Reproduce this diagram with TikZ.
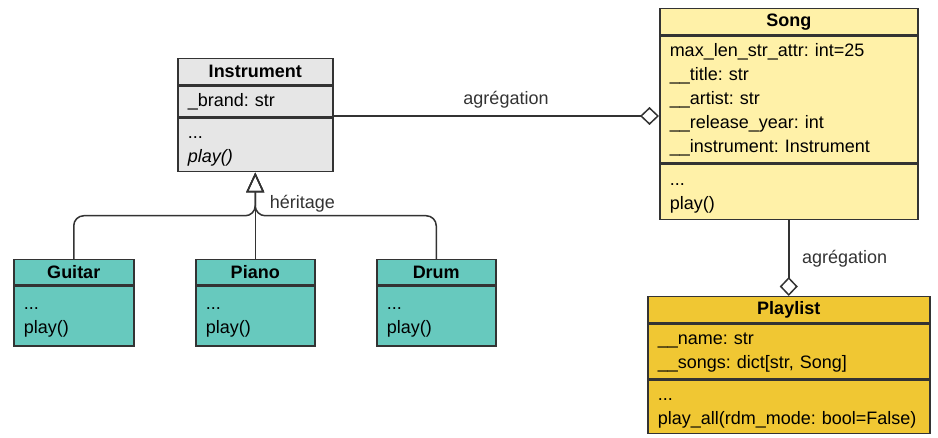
\documentclass[tikz,border=0pt]{standalone}
\usepackage{fontspec}
\setmainfont{Liberation Sans}
\usetikzlibrary{arrows.meta, positioning, calc}
\definecolor{umlrand}{HTML}{333333}
\definecolor{instgrau}{HTML}{E6E6E6}
\definecolor{kindtuerkis}{HTML}{67C9BE}
\definecolor{songgelb}{HTML}{FFF1A8}
\definecolor{listgold}{HTML}{F0C733}
\frenchspacing
\begin{document}
\begin{tikzpicture}[
    font=\fontsize{9}{12}\selectfont,
    head/.style={rectangle, draw=umlrand, line width=0.75pt,
                 inner xsep=5pt, inner ysep=0pt, minimum height=13pt,
                 font=\fontsize{9}{12}\selectfont\bfseries, align=center},
    part/.style={rectangle, draw=umlrand, line width=0.75pt,
                 inner xsep=5pt, inner ysep=0pt, align=left,
                 execute at begin node=\strut, execute at end node=\strut},
    aggr/.style={-{Diamond[open, length=9.5pt, width=9pt]}, line width=0.75pt, umlrand},
    inherit/.style={-{Triangle[open, length=10pt, width=9pt]}, line width=0.75pt,
                    umlrand, rounded corners=5pt}
  ]
  \useasboundingbox (0,0) rectangle (469pt,-219pt);
  % Instrument
  \node[head, fill=instgrau, text width=67.5pt, anchor=north west] (inst) at (88.5pt,-29pt) {Instrument};
  \node[part, fill=instgrau, text width=67.5pt, minimum height=15.5pt, below=0pt of inst] (instattr) {\_brand: str};
  \node[part, fill=instgrau, text width=67.5pt, minimum height=26.5pt, below=0pt of instattr] (instmeth) {...\\ \textit{play()}};
  % Song
  \node[head, fill=songgelb, text width=119pt, anchor=north west] (song) at (329.5pt,-4pt) {Song};
  \node[part, fill=songgelb, text width=119pt, minimum height=63.5pt, below=0pt of song] (songattr)
    {max\_len\_str\_attr: int=25\\ \_\_title: str\\ \_\_artist: str\\ \_\_release\_year: int\\ \_\_instrument: Instrument};
  \node[part, fill=songgelb, text width=119pt, minimum height=27.5pt, below=0pt of songattr] (songmeth) {...\\ play()};
  % Playlist
  \node[head, fill=listgold, text width=131pt, anchor=north west] (plist) at (323.5pt,-148pt) {Playlist};
  \node[part, fill=listgold, text width=131pt, minimum height=27.5pt, below=0pt of plist] (plistattr)
    {\_\_name: str\\ \_\_songs: dict[str, Song]};
  \node[part, fill=listgold, text width=131pt, minimum height=26.5pt, below=0pt of plistattr] (plistmeth)
    {...\\ play\_all(rdm\_mode: bool=False)};
  % Unterklassen
  \node[head, fill=kindtuerkis, text width=50pt, minimum height=12.5pt, anchor=north west] (guitar) at (6.5pt,-129.5pt) {Guitar};
  \node[part, fill=kindtuerkis, text width=50pt, minimum height=30pt, below=0pt of guitar] (guitarmeth) {...\\ play()};
  \node[head, fill=kindtuerkis, text width=49.5pt, minimum height=12.5pt, anchor=north west] (piano) at (97.5pt,-129.5pt) {Piano};
  \node[part, fill=kindtuerkis, text width=49.5pt, minimum height=30pt, below=0pt of piano] (pianometh) {...\\ play()};
  \node[head, fill=kindtuerkis, text width=49.5pt, minimum height=12.5pt, anchor=north west] (drum) at (188pt,-129.5pt) {Drum};
  \node[part, fill=kindtuerkis, text width=49.5pt, minimum height=30pt, below=0pt of drum] (drummeth) {...\\ play()};
  % Verbindungen
  \coordinate (junc) at ($(instmeth.south)!0.5!(piano.north)$);
  \draw[inherit] (guitar.north) |- (junc) -- (instmeth.south);
  \draw[inherit] (piano.north) -- (instmeth.south);
  \draw[inherit] (drum.north) |- (junc) node[pos=0.87, above, inner sep=1.5pt]{héritage} -- (instmeth.south);
  \draw[aggr] ([yshift=1pt]instattr.south east) -- ([yshift=1pt]instattr.south east -| songattr.west)
    node[pos=0.53, above]{agrégation};
  \draw[aggr] (songmeth.south) -- (plist.north) node[midway, right, xshift=3pt]{agrégation};
\end{tikzpicture}
\end{document}
